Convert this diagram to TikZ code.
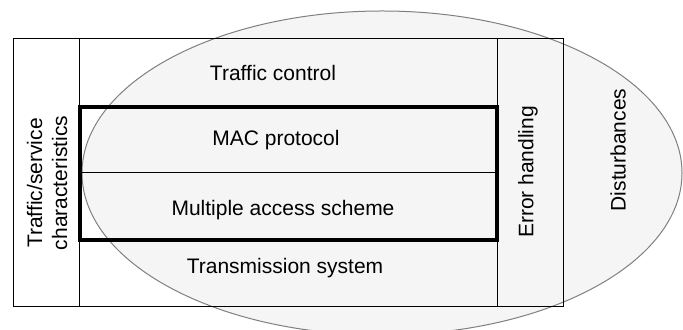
\documentclass[tikz,border=0pt]{standalone}
\usepackage{fontspec}
\setmainfont{Liberation Sans}
\usetikzlibrary{positioning}
\begin{document}
\begin{tikzpicture}[
	x=0.5pt, y=-0.5pt,
	layer/.style={
		inner sep=0pt,
		text=black,
		font=\fontsize{10.5}{12.5}\selectfont},
	sidelayer/.style={
		layer,
		rotate=90,
		align=center},
	thinline/.style={draw=black, line width=0.5pt},
	thickline/.style={draw=black, line width=1.8pt},
	cloud/.style={draw=gray, fill=gray!8, line width=0.5pt}
	]
	\useasboundingbox (0,0) rectangle (683,330);
	\clip (0,0) rectangle (683,330);
	\fill[white] (0,0) rectangle (683,330);

	% the environment
	\draw[cloud] (382,173) ellipse [x radius=300, y radius=162];

	% frame and columns
	\draw[thinline] (13,39) rectangle (563,307);
	\draw[thinline] (79,39) -- (79,307);
	\draw[thinline] (497,39) -- (497,307);
	\draw[thinline] (80,173) -- (497,173);
	\draw[thickline] (80,107) rectangle (497,240);

	\node[layer] (tc) at (273,73) {Traffic control};
	\node[layer] (mac) at (276,140) {MAC protocol};
	\node[layer] (mas) at (283,210) {Multiple access scheme};
	\node[layer] (ts) at (285,268) {Transmission system};
	\node[sidelayer] (tsc) at (47,183) {Traffic/service\\characteristics};
	\node[sidelayer] (eh) at (528,172) {Error handling};
	\node[sidelayer] (dist) at (618,150) {Disturbances};
\end{tikzpicture}
\end{document}
